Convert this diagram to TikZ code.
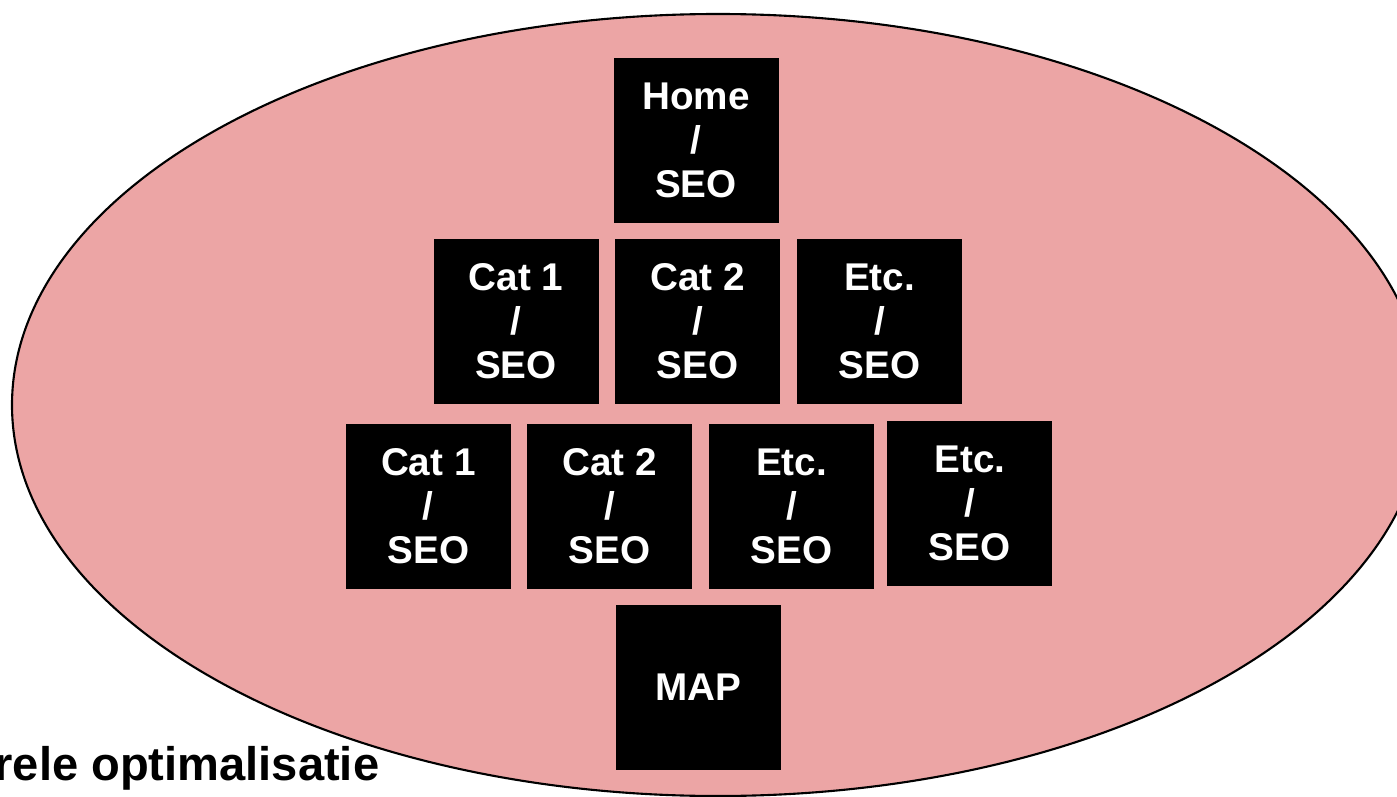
\documentclass[tikz,border=0pt]{standalone}
\usepackage{fontspec}
\setmainfont{Liberation Sans}
\usepackage{tikz}

\definecolor{sitepink}{RGB}{236,165,165}

\begin{document}
\begin{tikzpicture}[
    page/.style={fill=black, text=white, minimum width=1.65cm, minimum height=1.65cm,
                 inner sep=0pt, align=center, font=\fontsize{11}{12.5}\selectfont\bfseries}
  ]
      \clip (0,0) rectangle (13.97,7.96);

       % site
      \filldraw[fill=sitepink, draw=black, line width=0.6pt] (7.18,3.91) ellipse [x radius=7.06, y radius=3.91];

       % home
      \node[page] (home) at (6.96,6.555) {Home\\/\\SEO};

       % categories
      \node[page] (cat1) at (5.16,4.745) {Cat 1\\/\\SEO};
      \node[page] (cat2) at (6.975,4.745) {Cat 2\\/\\SEO};
      \node[page] (etc) at (8.795,4.745) {Etc.\\/\\SEO};

       % sub pages
      \node[page] (subcat1) at (4.283,2.90) {Cat 1\\/\\SEO};
      \node[page] (subcat2) at (6.098,2.895) {Cat 2\\/\\SEO};
      \node[page] (subetc) at (7.915,2.895) {Etc.\\/\\SEO};
      \node[page] (subetcb) at (9.698,2.925) {Etc.\\/\\SEO};

       % sitemap
      \node[page] (map) at (6.98,1.085) {MAP};

       % title
      \node[anchor=base east, inner sep=0pt, font=\fontsize{13.4}{15}\selectfont\bfseries]
        (title) at (3.80,0.16) {rele optimalisatie};
    \end{tikzpicture}
\end{document}
